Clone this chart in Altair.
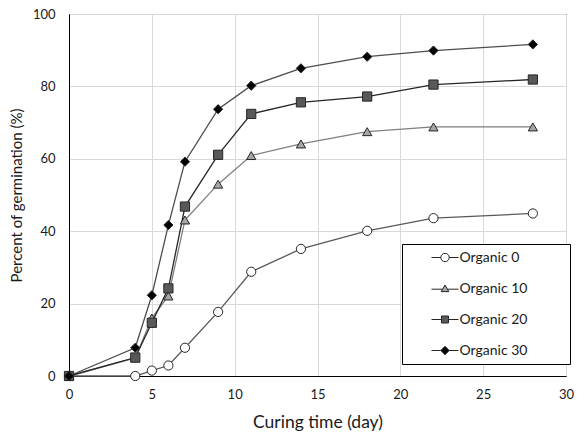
import altair as alt
import pandas as pd

days = [0, 4, 5, 6, 7, 9, 11, 14, 18, 22, 28]
series_names = ["Organic 0", "Organic 10", "Organic 20", "Organic 30"]
organic_0 = [0, 0, 1.5, 2.9, 7.8, 17.7, 28.8, 35.1, 40.1, 43.6, 44.9]
organic_10 = [0, 5, 16, 22.1, 43.1, 53, 60.9, 64.1, 67.5, 68.8, 68.8]
organic_20 = [0, 5.1, 14.7, 24.2, 46.8, 61.1, 72.4, 75.6, 77.2, 80.5, 81.9]
organic_30 = [0, 7.8, 22.3, 41.7, 59.2, 73.7, 80.2, 85.0, 88.2, 89.9, 91.6]

x_ticks = [0, 5, 10, 15, 20, 25, 30]
y_ticks = [0, 20, 40, 60, 80, 100]

rows = []
for name, vals in zip(series_names, [organic_0, organic_10, organic_20, organic_30]):
    for d, v in zip(days, vals):
        rows.append({"day": d, "pct": v, "series": name})
df = pd.DataFrame(rows)

line_colors = ["#595959", "#7f7f7f", "#262626", "#4d4d4d"]
fills = ["white", "#a6a6a6", "#595959", "black"]
shapes = ["circle", "triangle-up", "square", "diamond"]
legend_strokes = ["#262626", "#262626", "#262626", "#262626"]
legend_paths = [
    "M-1.93,0L-0.6,0M0.6,0L1.93,0M-0.6,0A0.6,0.6,0,1,1,0.6,0A0.6,0.6,0,1,1,-0.6,0Z",
    "M-1.93,0.1L-0.36,0.1M0.36,0.1L1.93,0.1M0,-0.5L0.55,0.45L-0.55,0.45Z",
    "M-1.93,0L-0.5,0M0.5,0L1.93,0M-0.5,-0.5L0.5,-0.5L0.5,0.5L-0.5,0.5Z",
    "M-1.93,0L-0.6,0M0.6,0L1.93,0M-0.6,0L0,-0.6L0.6,0L0,0.6Z",
]

FONT = "Lato"

xenc = alt.X("day:Q", scale=alt.Scale(domain=[0, 30], nice=False),
             axis=alt.Axis(values=x_ticks, title="Curing time (day)", ticks=False,
                           labelPadding=12, titlePadding=12, format="d",
                           labelFlush=False, titleFontSize=17.5))
yenc = alt.Y("pct:Q", scale=alt.Scale(domain=[0, 100], nice=False),
             axis=alt.Axis(values=y_ticks, title="Percent of germination (%)", ticks=False,
                           labelPadding=14, titlePadding=8, format="d",
                           labelFlush=False, titleFontSize=15))

lines = alt.Chart(df).mark_line(strokeWidth=1.3).encode(
    x=xenc, y=yenc,
    stroke=alt.Stroke("series:N", scale=alt.Scale(domain=series_names, range=line_colors), legend=None),
    detail="series:N",
)

points = alt.Chart(df).mark_point(filled=True, opacity=1, stroke="#262626", strokeWidth=1, size=85).encode(
    x=xenc, y=yenc,
    shape=alt.Shape("series:N", scale=alt.Scale(domain=series_names, range=shapes), legend=None),
    fill=alt.Fill("series:N", scale=alt.Scale(domain=series_names, range=fills), legend=None),
)

leg = dict(orient="none", legendX=333, legendY=230, title=None,
           strokeColor="black", fillColor="white", padding=6, rowPadding=16,
           symbolSize=196, symbolOffset=29.5, labelOffset=7, labelFontSize=14,
           labelFont=FONT, labelColor="#1a1a1a",
           symbolStrokeWidth=1,
           labelExpr="datum.label + '" + "\u00a0" * 10 + "\u200b'")

legend_layer = alt.Chart(df).transform_filter("false").mark_point(
    filled=True, opacity=1, strokeWidth=1).encode(
    shape=alt.Shape("series:N", scale=alt.Scale(domain=series_names, range=legend_paths),
                    legend=alt.Legend(**leg)),
    fill=alt.Fill("series:N", scale=alt.Scale(domain=series_names, range=fills),
                  legend=alt.Legend(**leg)),
    stroke=alt.Stroke("series:N", scale=alt.Scale(domain=series_names, range=legend_strokes),
                      legend=alt.Legend(**leg)),
)

chart = alt.layer(lines, points, legend_layer).resolve_scale(
    shape="independent", fill="independent", stroke="independent"
).properties(
    width=497, height=362,
    autosize=alt.AutoSizeParams(type="none"),
    padding={"left": 69, "top": 14, "right": 11, "bottom": 62},
    background="white",
).configure_view(
    stroke="black", strokeWidth=1
).configure_axis(
    labelFont=FONT, titleFont=FONT, labelFontSize=13,
    labelColor="#1a1a1a", titleColor="#1a1a1a", titleFontWeight="normal",
    gridColor="#d9d9d9", gridWidth=1, domainColor="black", domainWidth=1,
)

chart.save("out.html", embed_options={"renderer": "svg", "actions": False})
